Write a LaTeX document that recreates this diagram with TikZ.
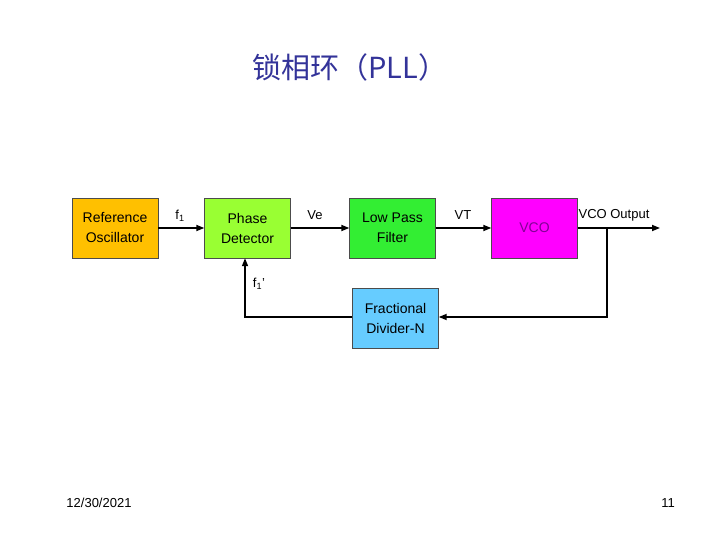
\documentclass[tikz,border=0pt]{standalone}
\usepackage{fontspec}
\setmainfont{Liberation Sans}
\newfontfamily\cjk{Noto Sans CJK SC}
\usetikzlibrary{arrows.meta}
\definecolor{ttl}{HTML}{333399}
\begin{document}
\begin{tikzpicture}[x=1pt,y=-1pt,
  blk/.style={draw=black!70,minimum width=86pt,minimum height=60pt,align=center,font=\fontsize{14}{20}\selectfont,inner sep=1pt},
  lbl/.style={font=\fontsize{13}{15}\selectfont,inner sep=1pt},
  ar/.style={line width=1.6pt,-{Triangle[length=8pt,width=6pt]}},
  ln/.style={line width=1.6pt}]
\useasboundingbox[fill=white] (0,0) rectangle (720,540);
\node[font=\cjk\fontsize{29}{34}\selectfont,text=ttl] (title) at (350,67) {锁相环（PLL）};
\node[blk,fill={rgb,255:red,255;green,192;blue,0}] (ref) at (115,228) {Reference\\Oscillator};
\node[blk,fill={rgb,255:red,153;green,255;blue,51}] (pd) at (247.5,228) {Phase\\Detector};
\node[blk,fill={rgb,255:red,51;green,238;blue,51}] (lpf) at (392.5,228) {Low Pass\\Filter};
\node[blk,fill={rgb,255:red,255;green,0;blue,255},text={rgb,255:red,130;green,0;blue,150}] (vco) at (534.5,228) {VCO};
\node[blk,fill={rgb,255:red,102;green,204;blue,255}] (div) at (395.5,318) {Fractional\\Divider-N};
\coordinate (out) at (660,228);
\coordinate (tap) at (607,228);
\coordinate (c1) at (607,317);
\coordinate (c2) at (245,317);
\draw[ar] (ref) -- (pd);
\draw[ar] (pd) -- (lpf);
\draw[ar] (lpf) -- (vco);
\draw[ar] (vco) -- (out);
\draw[ar] (tap) -- (c1) -- (div.east |- c1);
\draw[ar] (div.west |- c2) -- (c2) -- (pd.south -| c2);
\node[lbl] (l1) at (180,216) {f\textsubscript{1}};
\node[lbl] (l2) at (315,215) {Ve};
\node[lbl] (l3) at (463,215) {VT};
\node[lbl] (l4) at (614,215) {VCO Output};
\node[lbl] (l5) at (259,284) {f\textsubscript{1}'};
\node[lbl] (date) at (99,503) {12/30/2021};
\node[lbl] (pg) at (668,503) {11};
\end{tikzpicture}
\end{document}
